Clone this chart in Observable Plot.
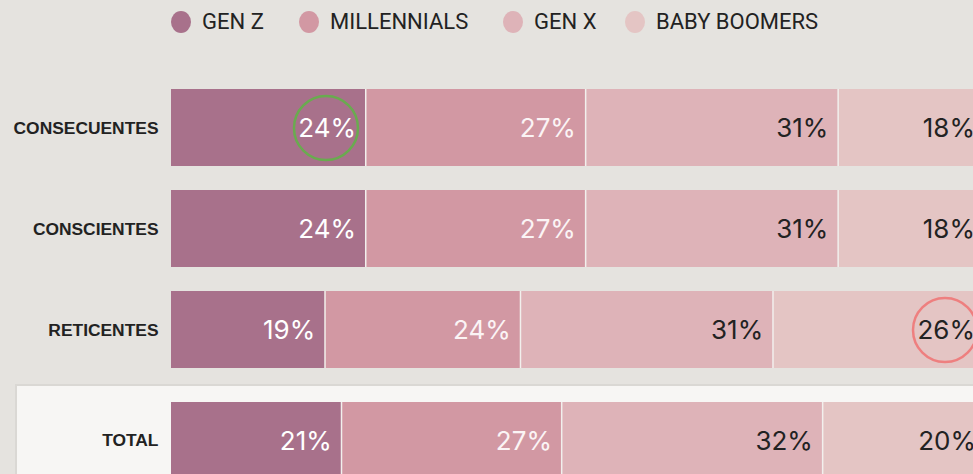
<!DOCTYPE html>
<html>
<head>
<meta charset="utf-8">
<script src="https://cdn.jsdelivr.net/npm/d3@7"></script>
<script src="https://cdn.jsdelivr.net/npm/@observablehq/plot@0.6"></script>
<style>
  html, body { margin: 0; padding: 0; background: #e5e3df; overflow: hidden; width: 973px; height: 474px; }
  #legend { height: 44px; position: relative; font-family: Roboto, sans-serif; font-size: 22px; color: #222; }
  .item { position: absolute; top: 9px; display: flex; align-items: center; }
  .sw { width: 20px; height: 22px; border-radius: 50%; margin-right: 11px; }
  #main { width: 1000px; }
  #total-box { position: relative; margin-left: 15px; width: 1200px; background: #f7f6f4; border: 2px solid #dad8d4; border-right: none; box-sizing: border-box; padding-top: 16px; }
  svg { display: block; overflow: visible; max-width: none !important; }
</style>
</head>
<body>
<div id="legend"></div>
<div id="main"></div>
<div id="total-box"></div>
<script>
const generations = ["GEN Z", "MILLENNIALS", "GEN X", "BABY BOOMERS"];
const colors = ["#a8718b", "#d298a3", "#deb3b8", "#e4c5c4"];
const labelColors = ["#ffffff", "#fbf4f5", "#222222", "#222222"];
const rows = ["CONSECUENTES", "CONSCIENTES", "RETICENTES"];
const totalRow = ["TOTAL"];
const consecuentes = [24, 27, 31, 18];
const conscientes = [24, 27, 31, 18];
const reticentes = [19, 24, 31, 26];
const total = [21, 27, 32, 20];
const highlights = [
  {row: "CONSECUENTES", gen: "GEN Z", color: "#69ab4f"},
  {row: "RETICENTES", gen: "BABY BOOMERS", color: "#ee7f7f"}
];
const legendX = [171, 299, 503, 625];

// legend
const legend = document.getElementById("legend");
generations.forEach((g, i) => {
  const it = document.createElement("div");
  it.className = "item";
  it.style.left = legendX[i] + "px";
  it.innerHTML = `<span class="sw" style="background:${colors[i]}"></span><span>${g}</span>`;
  legend.appendChild(it);
});

function toRecords(rowNames, series) {
  const out = [];
  rowNames.forEach((r, ri) => {
    series[ri].forEach((v, gi) => out.push({row: r, gen: generations[gi], gi, value: v}));
  });
  return out;
}

const mainData = toRecords(rows, [consecuentes, conscientes, reticentes]);
const totalData = toRecords(totalRow, [total]);

function hl(d) { return highlights.find(h => h.row === d.row && h.gen === d.gen); }

function makeChart(data, domain, opts) {
  const rowSet = domain.map(r => ({row: r, value: 100}));
  return Plot.plot({
    width: opts.width,
    height: opts.height,
    marginLeft: opts.marginLeft,
    marginRight: 14.5,
    marginTop: opts.marginTop,
    marginBottom: opts.marginBottom,
    style: {background: "transparent", overflow: "visible", maxWidth: "none"},
    x: {domain: [0, 100], axis: null},
    y: {domain, paddingInner: 0.24, paddingOuter: 0, align: 0, label: null, axis: null},
    color: {domain: generations, range: colors},
    marks: [
      Plot.barX(rowSet, {x: "value", y: "row", fill: "#f2f0ed"}),
      Plot.barX(data, Plot.stackX({x: "value", y: "row", fill: "gen", order: generations, insetRight: 1.5})),
      Plot.text(data, Plot.stackX2({
        x: "value", y: "row", z: "gen", order: generations,
        text: d => d.value + "%",
        fill: d => labelColors[d.gi],
        textAnchor: "end", dx: -11, dy: 1,
        fontSize: 26, fontFamily: "Inter, sans-serif", fontWeight: 400,
        style: "letter-spacing:0.8px"
      })),
      Plot.dot(data, Plot.filter(d => !!hl(d), Plot.stackX2({
        x: "value", y: "row", z: "gen", order: generations,
        r: 32, dx: -41, fill: "none", strokeWidth: 2.5,
        stroke: d => (hl(d) || {color: "#000"}).color
      }))),
      Plot.axisY({tickSize: 0, tickPadding: 13, fontSize: 17.4, fontWeight: "bold", fontFamily: "'Liberation Sans', Arial, sans-serif", fill: "#222", label: null})
    ]
  });
}

const main = makeChart(mainData, rows, {width: 1000, height: 325.5, marginLeft: 171, marginTop: 45, marginBottom: 0});
document.getElementById("main").appendChild(main);
const tot = makeChart(totalData, totalRow, {width: 984, height: 100, marginLeft: 154, marginTop: 0, marginBottom: 0});
const box = document.getElementById("total-box");
box.style.marginTop = "14.5px";
box.appendChild(tot);
</script>
</body>
</html>
